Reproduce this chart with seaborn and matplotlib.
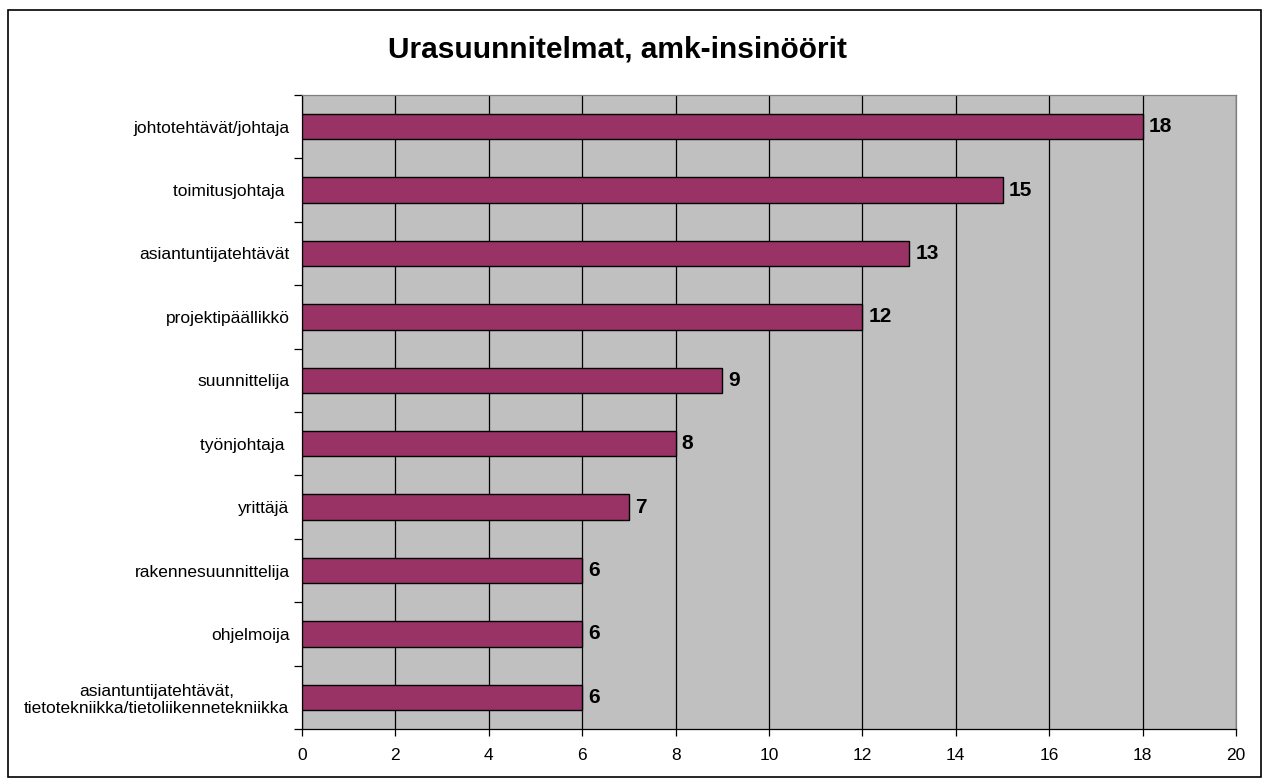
import matplotlib
matplotlib.use("Agg")
import matplotlib.pyplot as plt
import seaborn as sns
import pandas as pd
from matplotlib.patches import Rectangle

categories = [
    "johtotehtävät/johtaja",
    "toimitusjohtaja ",
    "asiantuntijatehtävät",
    "projektipäällikkö",
    "suunnittelija",
    "työnjohtaja ",
    "yrittäjä",
    "rakennesuunnittelija",
    "ohjelmoija",
    "asiantuntijatehtävät,\ntietotekniikka/tietoliikennetekniikka",
]
values = [18, 15, 13, 12, 9, 8, 7, 6, 6, 6]
x_ticks = [0, 2, 4, 6, 8, 10, 12, 14, 16, 18, 20]
title = "Urasuunnitelmat, amk-insinöörit"

sns.set_theme(style="white")
plt.rcParams['font.family'] = ['Liberation Sans', 'DejaVu Sans']
plt.rcParams['text.color'] = 'black'
plt.rcParams['xtick.color'] = 'black'
plt.rcParams['ytick.color'] = 'black'

df = pd.DataFrame({"cat": categories, "val": values})

fig = plt.figure(figsize=(12.66, 7.78), dpi=100)
fig.patch.set_facecolor("white")
ax = fig.add_axes([302/1266, 1-729/778, (1236-302)/1266, (729-95)/778])
ax.set_facecolor("#C0C0C0")

sns.barplot(data=df, y="cat", x="val", orient="h", color="#993366",
            width=0.4, edgecolor="black", linewidth=1, saturation=1, ax=ax, zorder=3)

ax.set_xlim(0, 20)
ax.set_ylim(len(categories) - 0.5, -0.5)
ax.set_xticks(x_ticks)
ax.set_xticklabels([str(t) for t in x_ticks], fontsize=12.5, color="black")
ax.xaxis.grid(True, color="black", linewidth=0.9, zorder=1)
ax.set_axisbelow(True)
ax.set_xlabel("")
ax.set_ylabel("")

# Category labels at centers, ticks at boundaries
ax.set_yticks(range(len(categories)))
ax.set_yticklabels(categories, fontsize=12.5, ha="right", color="black")
ax.tick_params(axis="y", length=0, pad=9)
for lbl in ax.get_yticklabels():
    lbl.set_multialignment("center")
ax.set_yticks([i - 0.5 for i in range(len(categories) + 1)], minor=True)
ax.tick_params(axis="y", which="minor", length=6, width=0.9, color="black", left=True)
ax.tick_params(axis="x", length=5, width=0.9, color="black", bottom=True, pad=9)

for side in ["left", "bottom"]:
    ax.spines[side].set_color("black")
    ax.spines[side].set_linewidth(0.9)
for side in ["top", "right"]:
    ax.spines[side].set_color("#808080")
    ax.spines[side].set_linewidth(0.9)

for i, v in enumerate(values):
    ax.text(v + 0.13, i, str(v), va="center", ha="left", fontsize=15,
            fontweight="bold", color="black", zorder=4)

fig.text(618/1266, 1-50/778, title, ha="center", va="center",
         fontsize=21.5, fontweight="bold", color="black")

fig.patches.append(Rectangle((8/1266, 1/778), (1261-8)/1266, (768-1)/778,
                             transform=fig.transFigure, fill=False,
                             edgecolor="black", linewidth=1.2))

fig.savefig("out.png", dpi=100)
